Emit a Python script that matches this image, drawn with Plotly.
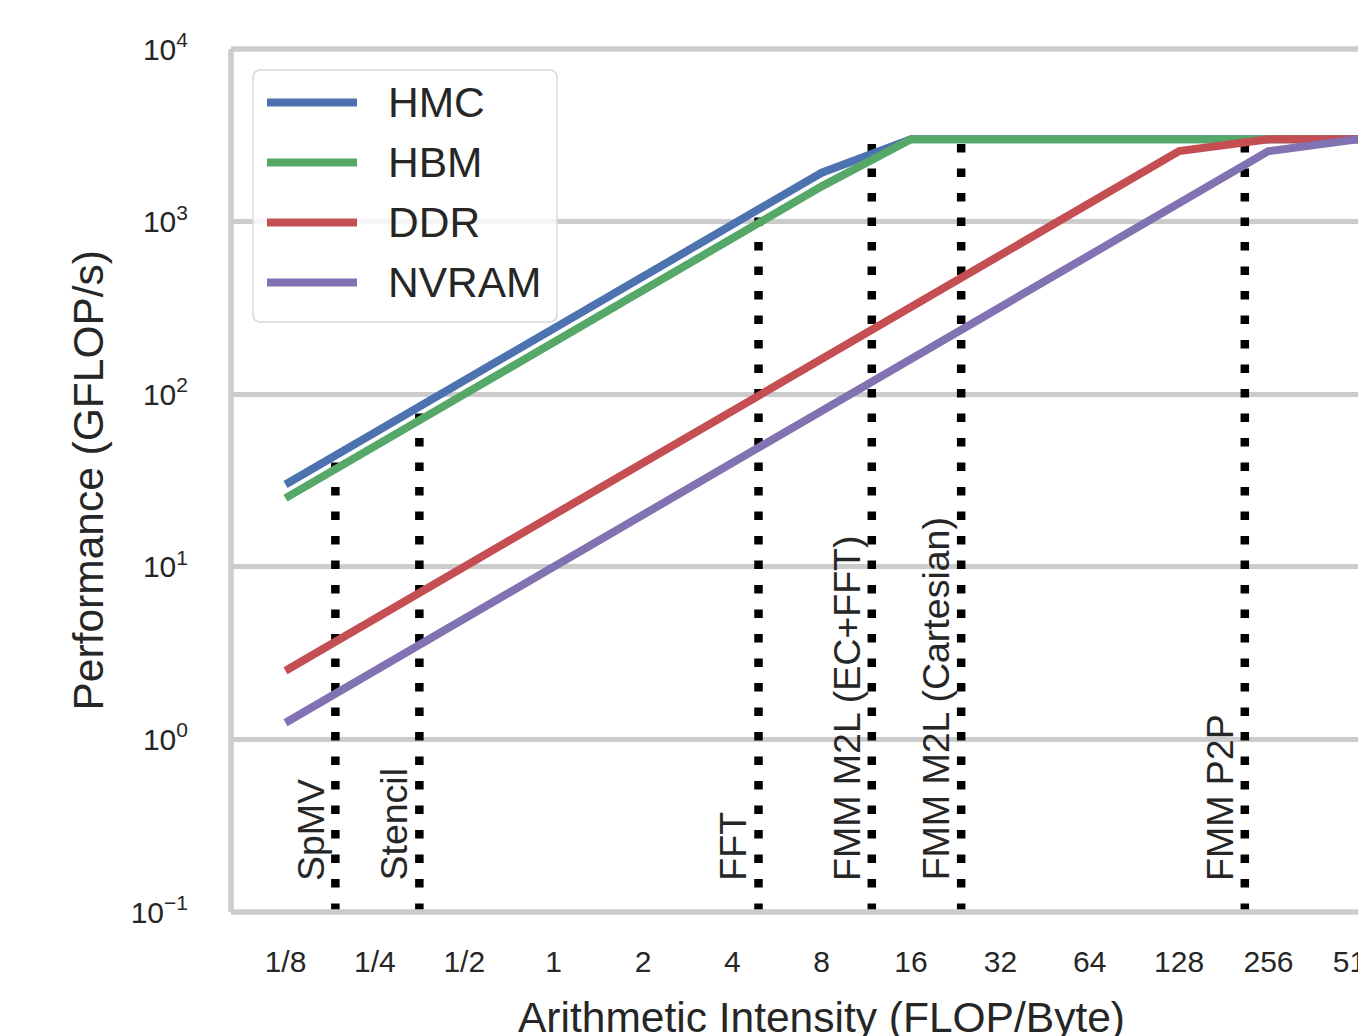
import math
import plotly.graph_objects as go

# ---------------- data ----------------
x_ticks = [0.125, 0.25, 0.5, 1, 2, 4, 8, 16, 32, 64, 128, 256, 512]
x_ticktext = ["1/8", "1/4", "1/2", "1", "2", "4", "8", "16", "32", "64", "128", "256", "512"]

series_names = ["HMC", "HBM", "DDR", "NVRAM"]
hmc = [30, 60, 120, 240, 480, 960, 1920, 3000, 3000, 3000, 3000, 3000, 3000]
hbm = [25, 50, 100, 200, 400, 800, 1600, 3000, 3000, 3000, 3000, 3000, 3000]
ddr = [2.5, 5, 10, 20, 40, 80, 160, 320, 640, 1280, 2560, 3000, 3000]
nvram = [1.25, 2.5, 5, 10, 20, 40, 80, 160, 320, 640, 1280, 2560, 3000]
series_values = [hmc, hbm, ddr, nvram]
series_colors = ["#4C72B0", "#55A868", "#C44E52", "#8172B2"]

kernel_names = ["SpMV", "Stencil", "FFT", "FMM M2L (EC+FFT)", "FMM M2L (Cartesian)", "FMM P2P"]
kernel_ai = [0.184, 0.353, 4.9, 11.8, 23.6, 213]
kernel_top = [44, 85, 1170, 2830, 3000, 3000]
kernel_bottom = 0.1

y_ticks = [0.1, 1, 10, 100, 1000, 10000]
y_ticktext = ["10<sup>\u22121</sup>", "10<sup>0</sup>", "10<sup>1</sup>",
              "10<sup>2</sup>", "10<sup>3</sup>", "10<sup>4</sup>"]

# ---------------- layout geometry ----------------
W, H = 1358, 1036
L, R, T, B = 231, 0, 49, 124
PW = W - L - R
PH = H - T - B

def px(X):
    return (X - L) / PW

def py(Y):
    return (H - B - Y) / PH

TXT = "#262626"
FONT = "Liberation Sans, Arial, sans-serif"
GRID = "#cccccc"

fig = go.Figure()

# dotted kernel lines (beneath the rooflines)
for name, ai, top in zip(kernel_names, kernel_ai, kernel_top):
    fig.add_trace(go.Scatter(
        x=[ai, ai], y=[kernel_bottom, top], mode="lines",
        line=dict(color="black", width=8.5, dash="8.5px,16px"),
        showlegend=False, hoverinfo="skip"))

# rooflines
for name, vals, col in zip(series_names, series_values, series_colors):
    fig.add_trace(go.Scatter(
        x=x_ticks, y=vals, mode="lines", name=name,
        line=dict(color=col, width=8), showlegend=False))

annotations = []
# kernel labels
for name, ai in zip(kernel_names, kernel_ai):
    annotations.append(dict(
        x=math.log10(ai), y=-0.83, xref="x", yref="y", text=name,
        textangle=-90, showarrow=False, xanchor="right", yanchor="bottom",
        xshift=-2, font=dict(size=37.5, color=TXT, family=FONT)))

# axis titles
annotations.append(dict(
    x=math.log10(8), y=(H - B - 1017) / PH, xref="x", yref="paper",
    text="Arithmetic Intensity (FLOP/Byte)", showarrow=False,
    xanchor="center", yanchor="middle", font=dict(size=42.5, color=TXT, family=FONT)))
annotations.append(dict(
    x=px(88), y=0.5, xref="paper", yref="paper",
    text="Performance (GFLOP/s)", showarrow=False, textangle=-90,
    xanchor="center", yanchor="middle", font=dict(size=42.5, color=TXT, family=FONT)))

shapes = []
# custom legend box (rounded)
x0, x1 = px(253), px(557)
y0, y1 = py(322), py(70)
rx, ry = 8 / PW, 8 / PH
path = (f"M {x0+rx},{y0} L {x1-rx},{y0} Q {x1},{y0} {x1},{y0+ry} "
        f"L {x1},{y1-ry} Q {x1},{y1} {x1-rx},{y1} L {x0+rx},{y1} "
        f"Q {x0},{y1} {x0},{y1-ry} L {x0},{y0+ry} Q {x0},{y0} {x0+rx},{y0} Z")
shapes.append(dict(type="path", path=path, xref="paper", yref="paper",
                   fillcolor="rgba(255,255,255,0.8)",
                   line=dict(color="#d9d9d9", width=1.5), layer="above"))
for i, (name, col) in enumerate(zip(series_names, series_colors)):
    yy = py(102.5 + 60 * i)
    shapes.append(dict(type="line", xref="paper", yref="paper",
                       x0=px(267), x1=px(357), y0=yy, y1=yy,
                       line=dict(color=col, width=8), layer="above"))
    annotations.append(dict(
        x=px(386), y=yy, xref="paper", yref="paper", text=name,
        showarrow=False, xanchor="left", yanchor="middle",
        font=dict(size=42.5, color=TXT, family=FONT)))

# frame (left, top, bottom)
fw = 5.5
shapes.append(dict(type="line", xref="paper", yref="paper", x0=0, x1=0, y0=0, y1=1,
                   line=dict(color=GRID, width=fw), layer="above"))
shapes.append(dict(type="line", xref="paper", yref="paper", x0=0, x1=1, y0=1, y1=1,
                   line=dict(color=GRID, width=fw), layer="above"))
shapes.append(dict(type="line", xref="paper", yref="paper", x0=0, x1=1, y0=0, y1=0,
                   line=dict(color=GRID, width=fw), layer="above"))

lg2 = math.log10(2)
fig.update_layout(
    width=W, height=H,
    margin=dict(l=L, r=R, t=T, b=B, autoexpand=False),
    paper_bgcolor="white", plot_bgcolor="white",
    font=dict(family=FONT, color=TXT),
    showlegend=False,
    annotations=annotations,
    shapes=shapes,
    xaxis=dict(type="log", range=[-3.61 * lg2, 9.0 * lg2 + 0.0004],
               tickvals=x_ticks, ticktext=x_ticktext, showgrid=False,
               zeroline=False, showline=False, ticks="",
               ticklabelstandoff=29, ticklabeloverflow="allow", automargin=False,
               tickfont=dict(size=30, color=TXT, family=FONT)),
    yaxis=dict(type="log", range=[-1, 4], tickvals=y_ticks, ticktext=y_ticktext,
               showgrid=True, gridcolor=GRID, gridwidth=4.5, zeroline=False,
               showline=False, ticks="", ticklabelstandoff=42, automargin=False,
               tickfont=dict(size=30, color=TXT, family=FONT)),
)

fig.write_html(
    "out.html",
    config={"displayModeBar": False},
    post_script="document.body.style.margin='0';document.body.style.overflow='hidden';",
)
